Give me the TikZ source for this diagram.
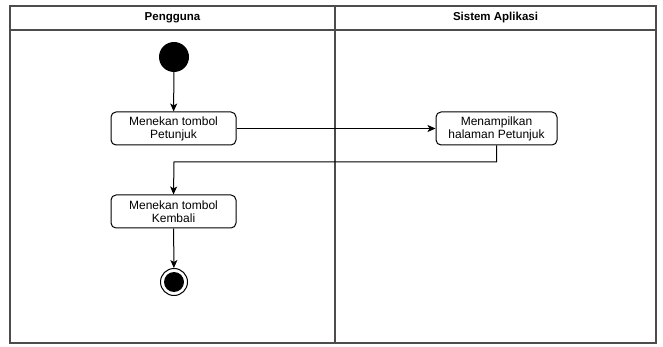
\documentclass[tikz,border=0pt]{standalone}
\usepackage{fontspec}
\setmainfont{Liberation Sans}
\usetikzlibrary{arrows.meta,positioning}
\begin{document}
\begin{tikzpicture}[x=1pt,y=-1pt,
  lane/.style={draw=black!70,line width=1.2pt},
  act/.style={draw=black,line width=1pt,rounded corners=5pt,fill=white,
    minimum width=125pt,minimum height=33pt,align=center,inner sep=1pt,
    font=\fontsize{12}{13}\selectfont},
  flow/.style={draw=black,line width=1pt,-{Stealth[length=8pt,width=7pt,inset=2pt]}},
  lanetitle/.style={font=\bfseries\fontsize{11.5}{13}\selectfont}]
\useasboundingbox (0,0) rectangle (663,347);
% swimlane frame
\draw[lane] (10,6) rectangle (656,343);
\draw[lane] (10,30) -- (656,30);
\draw[lane] (335,6) -- (335,343);
\node[lanetitle] (l1) at (172.5,18) {Pengguna};
\node[lanetitle] (l2) at (495.5,18) {Sistem Aplikasi};
% nodes
\node[circle,fill=black,minimum size=30pt,inner sep=0pt] (start) at (174,57) {};
\node[act] (a1) at (173.5,128.5) {Menekan tombol\\Petunjuk};
\node[act,minimum width=121pt] (a2) at (496.5,128.5) {Menampilkan\\halaman Petunjuk};
\node[act] (a3) at (173.5,211.5) {Menekan tombol\\Kembali};
\node[circle,draw=black,line width=1pt,minimum size=27pt,inner sep=0pt] (end) at (174,282) {};
\node[circle,fill=black,minimum size=20pt,inner sep=0pt] (endc) at (end) {};
% flows
\draw[flow] (start) -- (a1);
\draw[flow,line width=0.7pt] (a1) -- (a2);
\draw[flow] (a2.south) |- (174,162) -- (a3.north);
\draw[flow] (a3) -- (end);
\end{tikzpicture}
\end{document}
